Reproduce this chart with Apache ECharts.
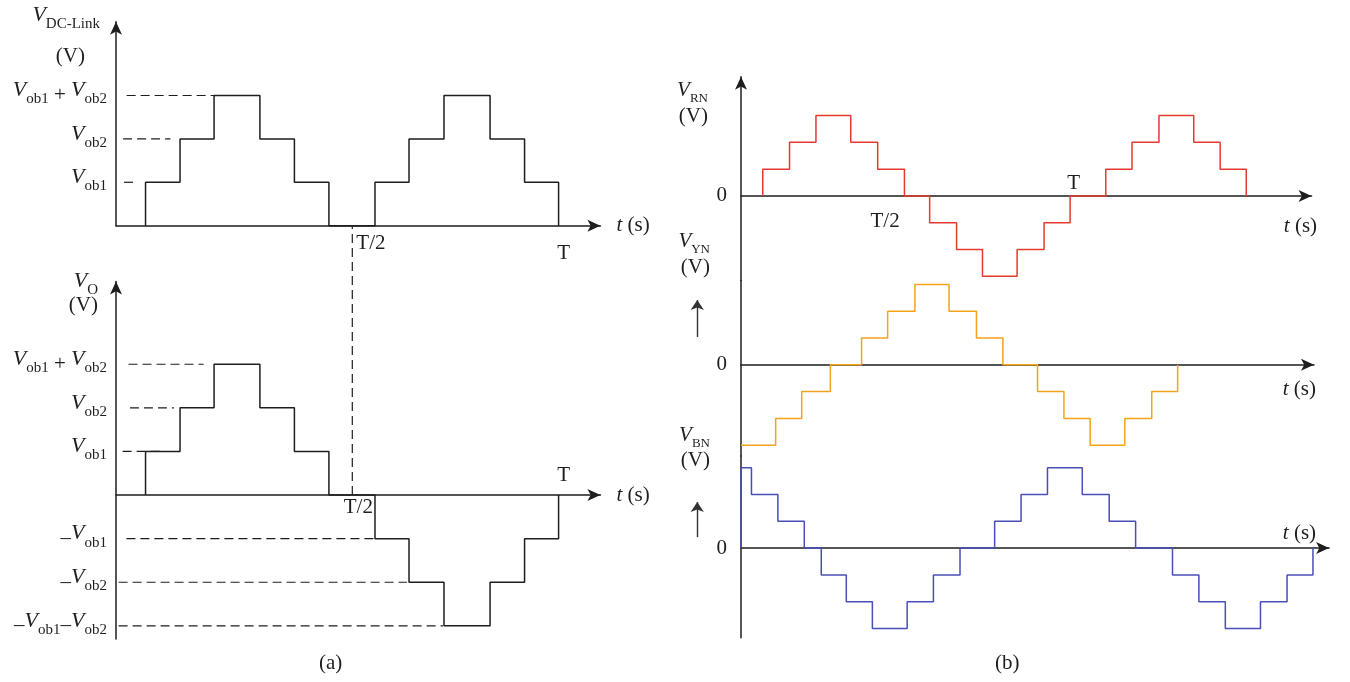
<!DOCTYPE html>
<html>
<head>
<meta charset="utf-8">
<title>Multilevel inverter waveforms</title>
<script src="https://cdn.jsdelivr.net/npm/echarts@6.0.0/dist/echarts.min.js"></script>
<style>
  html, body { margin: 0; padding: 0; background: #ffffff; }
  #chart { width: 1350px; height: 682px; }
</style>
</head>
<body>
<div id="chart"></div>
<script>
// ---------- (a) DC-link and output voltage; time in ms, T/2 = 10 ms ----------
// switching instants and the level held after each one (level 1 = V_ob1, 2 = V_ob2, 3 = V_ob1 + V_ob2)
const edgesA = [1.25, 2.71, 4.15, 6.09, 7.55, 9.01, 10.96, 12.4, 13.88, 15.83, 17.29, 18.73];
const levelsDcLink = [0, 1, 2, 3, 2, 1, 0, 1, 2, 3, 2, 1, 0];
const levelsOutput = [0, 1, 2, 3, 2, 1, 0, -1, -2, -3, -2, -1, 0];

// dashed level guides: [from, to, level]
const guidesDcLink = [[0.45, 4.15, 3], [0.3, 2.3, 2], [0.34, 0.86, 1]];
const guidesOutput = [[0.53, 3.71, 3], [0.59, 2.45, 2], [0.28, 1.95, 1],
                      [0.44, 10.9, -1], [0.11, 12.31, -2], [0.11, 13.84, -3]];
const halfPeriodA = 10;                 // T/2 marker
const halfPeriodSpan = [0, 6.16];       // output-voltage range the T/2 marker spans (up to the DC-link time axis)

const levelTicksDcLink = [1, 2, 3];
const levelTextDcLink = ['V_ob1', 'V_ob2', 'V_ob1 + V_ob2'];
const levelTicksOutput = [-3, -2, -1, 1, 2, 3];
const levelTextOutput = ['–V_ob1–V_ob2', '–V_ob2', '–V_ob1', 'V_ob1', 'V_ob2', 'V_ob1 + V_ob2'];

const periodMarksA = [10, 18.9];
const periodText = ['T/2', 'T'];

// ---------- (b) phase voltages; time in ms ----------
const edgesRN = [1.27, 2.83, 4.37, 6.40, 7.97, 9.53, 11.0, 12.57, 14.08, 16.1, 17.67, 19.19,
                 21.27, 22.8, 24.37, 26.4, 27.94, 29.46];
const levelsRN = [0, 1, 2, 3, 2, 1, 0, -1, -2, -3, -2, -1, 0, 1, 2, 3, 2, 1, 0];

const edgesYN = [0, 2.02, 3.54, 5.21, 7.03, 8.55, 10.14, 12.13, 13.73, 15.27, 17.29, 18.83,
                 20.36, 22.38, 23.95, 25.46];
const levelsYN = [-3, -3, -2, -1, 0, 1, 2, 3, 2, 1, 0, -1, -2, -3, -2, -1, 0];

const edgesBN = [0, 0.61, 2.15, 3.69, 4.68, 6.14, 7.66, 9.69, 11.22, 12.77, 14.79, 16.33,
                 17.87, 19.9, 21.47, 23.01, 25.16, 26.7, 28.24, 30.29, 31.84, 33.35];
const levelsBN = [0, 3, 2, 1, 0, -1, -2, -3, -2, -1, 0, 1, 2, 3, 2, 1, 0, -1, -2, -3, -2, -1, 0];

const periodMarksB = [8.4, 19.4];
const zeroTick = [0];
// small upward arrows beside the Y and B phase labels (time, level)
const directionHintYN = [[-2.55, 1.04], [-2.55, 2.42]];
const directionHintBN = [[-2.55, 0.41], [-2.55, 1.72]];

// ---------- styling ----------
const INK = '#1e1e1e';
const FONT = '"Liberation Serif", "Times New Roman", Times, serif';
const RED = '#e53a2f', ORANGE = '#f5a21c', BLUE = '#4a4fb6';

function makeRich(vSize, sSize) {
  return {
    v: { fontFamily: FONT, fontSize: vSize, fontStyle: 'italic', color: INK, lineHeight: 20, padding: [0, 0, 10, 0] },
    s: { fontFamily: FONT, fontSize: sSize, color: INK, lineHeight: 20, padding: [8, 0, 0, 0] },
    n: { fontFamily: FONT, fontSize: 21, color: INK, lineHeight: 20 },
    i: { fontFamily: FONT, fontSize: 21, fontStyle: 'italic', color: INK, lineHeight: 20 }
  };
}
const richA = makeRich(22, 15);
const richB = makeRich(21, 13);

// "V_ob1 + V_ob2" -> rich text with italic V and lowered subscripts
function richLine(str) {
  return str.split(/(V_[A-Za-z0-9-]+)/).filter(Boolean).map(p =>
    p.startsWith('V_') ? `{v|V}{s|${p.slice(2)}}` : `{n|${p}}`).join('');
}

function nameBlock(str) {
  const lines = str.split('\n');
  return richLine(lines[0]) + '\n{u|' + lines[1] + '}';
}

function stepPoints(edges, levels) {
  const pts = [[edges[0], levels[0]]];
  edges.forEach((e, i) => pts.push([e, levels[i + 1]]));
  return pts;
}

const PX_A = 23.63, LV_A1 = 43.4, LV_A2 = 43.6, PX_B = 17.15, LV_B = 26.8;

const ranges = [
  { x: 20.5, y: [0, 4.7] },
  { x: 20.5, y: [-3.3, 4.9] },
  { x: 33.27, y: [-3.15, 4.45] },
  { x: 33.41, y: [-3.4, 3.15] },
  { x: 34.29, y: [-3.35, 3.44] }
];

const grid = [
  { left: 116, top: 21.7, width: ranges[0].x * PX_A, height: (ranges[0].y[1] - ranges[0].y[0]) * LV_A1 },
  { left: 116, top: 281.4, width: ranges[1].x * PX_A, height: (ranges[1].y[1] - ranges[1].y[0]) * LV_A2 },
  { left: 741, top: 76.7, width: ranges[2].x * PX_B, height: (ranges[2].y[1] - ranges[2].y[0]) * LV_B },
  { left: 741, top: 280.4, width: ranges[3].x * PX_B, height: (ranges[3].y[1] - ranges[3].y[0]) * LV_B },
  { left: 741, top: 455.9, width: ranges[4].x * PX_B, height: (ranges[4].y[1] - ranges[4].y[0]) * LV_B }
].map(g => Object.assign(g, { containLabel: false, outerBoundsMode: 'none' }));

const axisLineStyle = { color: INK, width: 1.5 };

function timeAxis(gi, nm) {
  return {
    type: 'value', gridIndex: gi, min: 0, max: ranges[gi].x,
    axisLine: { onZero: true, symbol: ['none', 'arrow'], symbolSize: [9, 13], lineStyle: axisLineStyle },
    axisTick: { show: false }, axisLabel: { show: false }, splitLine: { show: false },
    name: '{i|t}{n| (s)}', nameLocation: 'end', nameGap: nm.gap,
    nameTextStyle: { rich: richA, align: nm.align, verticalAlign: nm.vAlign, padding: nm.padding }
  };
}

function levelAxis(gi, cfg) {
  const ticks = cfg.ticks, texts = cfg.texts, rich = cfg.rich;
  return {
    type: 'value', gridIndex: gi, min: ranges[gi].y[0], max: ranges[gi].y[1],
    axisLine: { onZero: false, symbol: cfg.arrow ? ['none', 'arrow'] : 'none', symbolSize: [9, 13], lineStyle: axisLineStyle },
    axisTick: { show: false }, splitLine: { show: false },
    axisLabel: {
      show: true, customValues: ticks, margin: cfg.margin,
      formatter: v => richLine(texts[ticks.indexOf(v)] || ''),
      rich, color: INK
    },
    name: nameBlock(cfg.name), nameLocation: 'end', nameGap: cfg.nameGap,
    nameTextStyle: {
      align: 'right', verticalAlign: 'top', padding: [0, cfg.namePad, 0, 0],
      rich: Object.assign({}, rich, {
        u: { fontFamily: FONT, fontSize: 21, color: INK, lineHeight: cfg.unitLine, padding: [0, cfg.unitPad || 0, 0, 0] }
      })
    }
  };
}

const xAxis = [
  timeAxis(0, { gap: 16, align: 'left', vAlign: 'middle', padding: 0 }),
  timeAxis(1, { gap: 16, align: 'left', vAlign: 'middle', padding: 0 }),
  timeAxis(2, { gap: 5.5, align: 'right', vAlign: 'top', padding: [21, 0, 0, 0] }),
  timeAxis(3, { gap: 2, align: 'right', vAlign: 'top', padding: [15, 0, 0, 0] }),
  timeAxis(4, { gap: -13, align: 'right', vAlign: 'bottom', padding: [0, 0, 5, 0] })
];

const yAxis = [
  levelAxis(0, { ticks: levelTicksDcLink, texts: levelTextDcLink, arrow: true, margin: 9, rich: richA,
                 name: 'V_DC-Link\n(V)', nameGap: 11.7, namePad: 16, unitLine: 52, unitPad: 15 }),
  levelAxis(1, { ticks: levelTicksOutput, texts: levelTextOutput, arrow: true, margin: 9, rich: richA,
                 name: 'V_O\n(V)', nameGap: 5.4, namePad: 18, unitLine: 18 }),
  levelAxis(2, { ticks: zeroTick, texts: ['0'], arrow: true, margin: 14, rich: richB,
                 name: 'V_RN\n(V)', nameGap: -8.3, namePad: 33, unitLine: 22 }),
  levelAxis(3, { ticks: zeroTick, texts: ['0'], arrow: false, margin: 14, rich: richB,
                 name: 'V_YN\n(V)', nameGap: 44.4, namePad: 31, unitLine: 22 }),
  levelAxis(4, { ticks: zeroTick, texts: ['0'], arrow: false, margin: 14, rich: richB,
                 name: 'V_BN\n(V)', nameGap: 25.9, namePad: 31, unitLine: 20 })
];

function waveform(gi, edges, levels, color) {
  return {
    type: 'line', xAxisIndex: gi, yAxisIndex: gi, step: 'end', showSymbol: false, symbol: 'none',
    clip: false, silent: true, z: 3,
    lineStyle: { color, width: 1.5 },
    data: stepPoints(edges, levels)
  };
}

function dashed(gi, pts) {
  return {
    type: 'line', xAxisIndex: gi, yAxisIndex: gi, showSymbol: false, symbol: 'none',
    clip: false, silent: true, z: 2,
    lineStyle: { color: INK, width: 1.2, type: [9, 5] },
    data: pts
  };
}

// T/2 and T annotations anchored on the time axis
function notes(gi, xs, placements) {
  return {
    type: 'scatter', xAxisIndex: gi, yAxisIndex: gi, symbolSize: 0, silent: true, clip: false, z: 6,
    itemStyle: { opacity: 1, color: INK },
    label: { show: true, fontFamily: FONT, fontSize: 21, color: INK, opacity: 1 },
    data: xs.map((x, k) => ({
      value: [x, 0],
      label: Object.assign({ show: true, formatter: periodText[k], color: INK, fontFamily: FONT, fontSize: 21,
                             opacity: 1, textBorderWidth: 0 }, placements[k])
    }))
  };
}

function hint(gi, pts) {
  return {
    type: 'lines', coordinateSystem: 'cartesian2d', xAxisIndex: gi, yAxisIndex: gi,
    clip: false, silent: true, z: 4,
    symbol: ['none', 'arrow'], symbolSize: [0, 10],
    lineStyle: { color: '#333333', width: 1.4, opacity: 1, curveness: 0 },
    data: [{ coords: pts }]
  };
}

const series = [
  waveform(0, edgesA, levelsDcLink, INK),
  waveform(1, edgesA, levelsOutput, INK),
  ...guidesDcLink.map(g => dashed(0, [[g[0], g[2]], [g[1], g[2]]])),
  ...guidesOutput.map(g => dashed(1, [[g[0], g[2]], [g[1], g[2]]])),
  dashed(1, [[halfPeriodA, halfPeriodSpan[0]], [halfPeriodA, halfPeriodSpan[1]]]),
  notes(0, periodMarksA, [
    { position: [4, 7], align: 'left', verticalAlign: 'top' },
    { position: [1, 17], align: 'center', verticalAlign: 'top' }
  ]),
  notes(1, periodMarksA, [
    { position: [6, 2], align: 'center', verticalAlign: 'top' },
    { position: [1, -9], align: 'center', verticalAlign: 'bottom' }
  ]),
  waveform(2, edgesRN, levelsRN, RED),
  waveform(3, edgesYN, levelsYN, ORANGE),
  waveform(4, edgesBN, levelsBN, BLUE),
  notes(2, periodMarksB, [
    { position: [0, 15], align: 'center', verticalAlign: 'top' },
    { position: [0, -2], align: 'center', verticalAlign: 'bottom' }
  ]),
  hint(3, directionHintYN),
  hint(4, directionHintBN)
];

const captionStyle = { fontFamily: FONT, fontSize: 21, fontWeight: 'normal', color: INK };

const option = {
  backgroundColor: '#ffffff',
  animation: false,
  title: [
    { text: '(a)', left: 319, top: 653, padding: 0, textStyle: captionStyle },
    { text: '(b)', left: 995, top: 653, padding: 0, textStyle: captionStyle }
  ],
  grid, xAxis, yAxis, series
};

const chart = echarts.init(document.getElementById('chart'));
chart.setOption(option);
</script>
</body>
</html>
